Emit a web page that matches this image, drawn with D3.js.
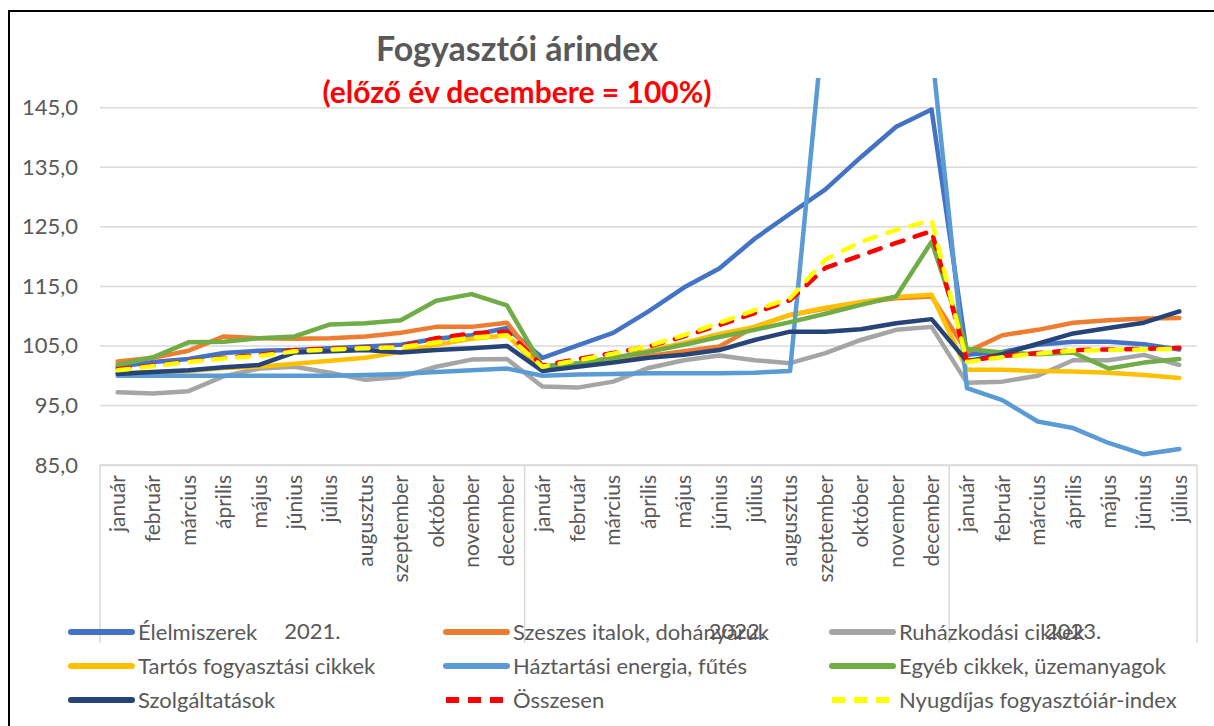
<!DOCTYPE html>
<html>
<head>
<meta charset="utf-8">
<script src="https://cdn.jsdelivr.net/npm/d3@7.9.0/dist/d3.min.js"></script>
<style>
  body { margin: 0; background: #fff; }
  svg { display: block; font-family: Lato, 'Open Sans', sans-serif; }
</style>
</head>
<body>
<svg id="chart" width="1214" height="726"></svg>
<script>
const monthNames = ['január', 'február', 'március', 'április', 'május', 'június',
  'július', 'augusztus', 'szeptember', 'október', 'november', 'december'];
const years = ['2021.', '2022.', '2023.'];
const monthsPerYear = [12, 12, 7];

const yTicks = [85, 95, 105, 115, 125, 135, 145];

const seriesNames = ['Élelmiszerek', 'Szeszes italok, dohányáruk', 'Ruházkodási cikkek',
  'Tartós fogyasztási cikkek', 'Háztartási energia, fűtés', 'Egyéb cikkek, üzemanyagok',
  'Szolgáltatások', 'Összesen', 'Nyugdíjas fogyasztóiár-index'];

const elelmiszerek = [101.5, 102.3, 102.8, 103.8, 104.2, 104.3, 104.6, 104.9, 105.2, 106.2, 106.8, 108.0,
  103.0, 105.1, 107.2, 110.8, 114.8, 118.0, 123.0, 127.2, 131.3, 136.7, 141.8, 144.7,
  103.5, 104.0, 105.2, 105.7, 105.7, 105.3, 104.4];
const szeszes = [102.4, 103.0, 104.2, 106.6, 106.3, 106.2, 106.3, 106.6, 107.2, 108.2, 108.2, 108.9,
  101.3, 101.9, 102.6, 103.3, 104.1, 104.9, 108.2, 110.2, 111.3, 112.3, 113.0, 113.3,
  104.0, 106.8, 107.7, 108.9, 109.3, 109.6, 109.7];
const ruhazkodas = [97.2, 97.0, 97.4, 99.9, 101.2, 101.5, 100.5, 99.3, 99.8, 101.5, 102.7, 102.8,
  98.2, 98.0, 99.0, 101.3, 102.6, 103.4, 102.6, 102.1, 103.8, 106.0, 107.7, 108.2,
  98.8, 99.0, 100.0, 102.6, 102.6, 103.5, 101.8];
const tartos = [100.4, 100.6, 100.8, 101.3, 101.5, 102.0, 102.5, 103.0, 104.0, 105.2, 106.2, 106.8,
  101.0, 101.8, 102.8, 104.2, 105.5, 107.0, 108.2, 110.2, 111.4, 112.4, 113.2, 113.6,
  101.0, 101.0, 100.8, 100.7, 100.5, 100.1, 99.6];
const energia = [100.0, 100.0, 100.0, 100.0, 100.0, 100.0, 100.0, 100.1, 100.3, 100.6, 100.9, 101.2,
  100.0, 100.2, 100.3, 100.4, 100.4, 100.4, 100.5, 100.8, 162.6, 165.0, 162.0, 155.0,
  97.9, 95.9, 92.3, 91.2, 88.7, 86.8, 87.7];
const egyeb = [101.8, 103.1, 105.6, 105.7, 106.3, 106.6, 108.6, 108.8, 109.3, 112.6, 113.7, 111.8,
  101.6, 102.1, 103.0, 104.0, 105.2, 106.5, 107.7, 109.0, 110.4, 111.9, 113.3, 122.5,
  104.5, 103.9, 103.6, 103.9, 101.2, 102.2, 102.8];
const szolgaltatas = [100.3, 100.6, 100.9, 101.4, 101.8, 103.9, 104.1, 104.3, 103.9, 104.3, 104.6, 105.0,
  100.8, 101.5, 102.2, 103.0, 103.5, 104.3, 106.0, 107.4, 107.4, 107.8, 108.8, 109.5,
  102.4, 103.6, 105.4, 107.1, 108.0, 108.9, 110.8];
const osszesen = [101.1, 101.7, 102.4, 103.0, 103.5, 104.3, 104.5, 104.7, 104.9, 106.3, 107.1, 107.4,
  101.7, 102.8, 103.8, 104.9, 106.6, 108.5, 110.5, 112.7, 118.1, 120.2, 122.3, 124.3,
  102.5, 103.3, 103.8, 104.3, 104.4, 104.5, 104.7];
const nyugdijas = [100.9, 101.6, 102.3, 102.9, 103.3, 104.1, 104.4, 104.6, 104.8, 105.6, 106.4, 106.8,
  101.5, 102.6, 103.7, 105.0, 106.8, 108.9, 111.0, 113.0, 119.5, 122.5, 124.5, 126.1,
  102.3, 103.1, 103.7, 104.2, 104.3, 104.4, 104.5];

const colors = ['#4472C4', '#ED7D31', '#A5A5A5', '#FFC000', '#5B9BD5', '#70AD47', '#264478', '#FF0000', '#FFFF00'];
const dashed = [false, false, false, false, false, false, false, true, true];
const values = [elelmiszerek, szeszes, ruhazkodas, tartos, energia, egyeb, szolgaltatas, osszesen, nyugdijas];

// category list built from years and months
const categories = [];
years.forEach((y, yi) => {
  for (let m = 0; m < monthsPerYear[yi]; m++) categories.push({ year: y, month: monthNames[m], yi });
});

const svg = d3.select('#chart');
const plot = { left: 100, right: 1197, top: 78, bottom: 465 };

const x = d3.scaleBand().domain(d3.range(categories.length)).range([plot.left, plot.right]).padding(0);
const cx = (i) => x(i) + x.bandwidth() / 2;
const y = d3.scaleLinear().domain([85, 150]).range([plot.bottom, plot.top]);

const textColor = '#595959';
const gridColor = '#d9d9d9';

// border
svg.append('rect')
  .attr('x', 9).attr('y', 11).attr('width', 1230).attr('height', 740)
  .attr('fill', 'none').attr('stroke', '#000').attr('stroke-width', 2);

// gridlines
svg.append('g')
  .selectAll('line')
  .data(yTicks)
  .join('line')
  .attr('x1', plot.left).attr('x2', plot.right)
  .attr('y1', (d) => y(d)).attr('y2', (d) => y(d))
  .attr('stroke', gridColor).attr('stroke-width', 1.5);

// y axis labels
const yAxis = d3.axisLeft(y).tickValues(yTicks).tickSize(0).tickPadding(0)
  .tickFormat((d) => d3.format('.1f')(d).replace('.', ','));
svg.append('g')
  .attr('transform', 'translate(78,0)')
  .call(yAxis)
  .call((g) => g.select('.domain').remove())
  .selectAll('text')
  .attr('font-size', 22).attr('fill', textColor).attr('font-family', 'Lato');

// x axis (multi-level)
const xAxis = d3.axisBottom(x).tickSize(0).tickFormat((i) => categories[i].month);
const gx = svg.append('g')
  .attr('transform', `translate(0,${plot.bottom})`)
  .call(xAxis);
gx.select('.domain').attr('stroke', gridColor).attr('stroke-width', 1.5);
gx.selectAll('text')
  .attr('transform', 'rotate(-90)')
  .attr('text-anchor', 'end')
  .attr('dy', '0.35em')
  .attr('x', -10).attr('y', 0)
  .attr('font-size', 21).attr('fill', textColor).attr('font-family', 'Lato');

// year group dividers and labels
let start = 0;
const bounds = [];
years.forEach((yr, yi) => {
  const end = start + monthsPerYear[yi];
  bounds.push({ yr, x0: x(start), x1: x(end - 1) + x.bandwidth() });
  start = end;
});
const divX = [bounds[0].x0, ...bounds.map((b) => b.x1)];
svg.append('g')
  .selectAll('line')
  .data(divX)
  .join('line')
  .attr('x1', (d) => d).attr('x2', (d) => d)
  .attr('y1', plot.bottom).attr('y2', 643)
  .attr('stroke', gridColor).attr('stroke-width', 1.5);
svg.append('g')
  .selectAll('text')
  .data(bounds)
  .join('text')
  .attr('x', (d) => (d.x0 + d.x1) / 2)
  .attr('y', 639)
  .attr('text-anchor', 'middle')
  .attr('font-size', 22).attr('fill', textColor)
  .text((d) => d.yr);

// lines
svg.append('clipPath').attr('id', 'clip')
  .append('rect')
  .attr('x', plot.left).attr('y', plot.top)
  .attr('width', plot.right - plot.left).attr('height', plot.bottom - plot.top);

const line = d3.line().x((d, i) => cx(i)).y((d) => y(d));
const lines = svg.append('g').attr('clip-path', 'url(#clip)');
values.forEach((vals, s) => {
  lines.append('path')
    .datum(vals)
    .attr('d', line)
    .attr('fill', 'none')
    .attr('stroke', colors[s])
    .attr('stroke-width', 4.5)
    .attr('stroke-linejoin', 'round')
    .attr('stroke-linecap', 'round')
    .attr('stroke-dasharray', dashed[s] ? '12,12' : null);
});

// title
svg.append('text')
  .attr('x', 517).attr('y', 61)
  .attr('text-anchor', 'middle')
  .attr('font-size', 34).attr('font-weight', 'bold').attr('fill', textColor)
  .text('Fogyasztói árindex');
svg.append('text')
  .attr('x', 517).attr('y', 103)
  .attr('text-anchor', 'middle')
  .attr('font-size', 30).attr('font-weight', 'bold').attr('fill', '#FF0000')
  .text('(előző év decembere = 100%)');

// legend
const legX = [68, 443, 829];
const legY = [632, 666, 700];
const leg = svg.append('g');
seriesNames.forEach((name, s) => {
  const col = s % 3;
  const row = Math.floor(s / 3);
  const g = leg.append('g').attr('transform', `translate(${legX[col]},${legY[row]})`);
  g.append('line')
    .attr('x1', 3).attr('x2', 64).attr('y1', 0).attr('y2', 0)
    .attr('stroke', colors[s]).attr('stroke-width', 6)
    .attr('stroke-linecap', dashed[s] ? 'butt' : 'round')
    .attr('stroke-dasharray', dashed[s] ? '13,9' : null);
  g.append('text')
    .attr('x', 70).attr('y', 0).attr('dy', '0.35em')
    .attr('font-size', 22).attr('fill', textColor)
    .text(name);
});
</script>
</body>
</html>
